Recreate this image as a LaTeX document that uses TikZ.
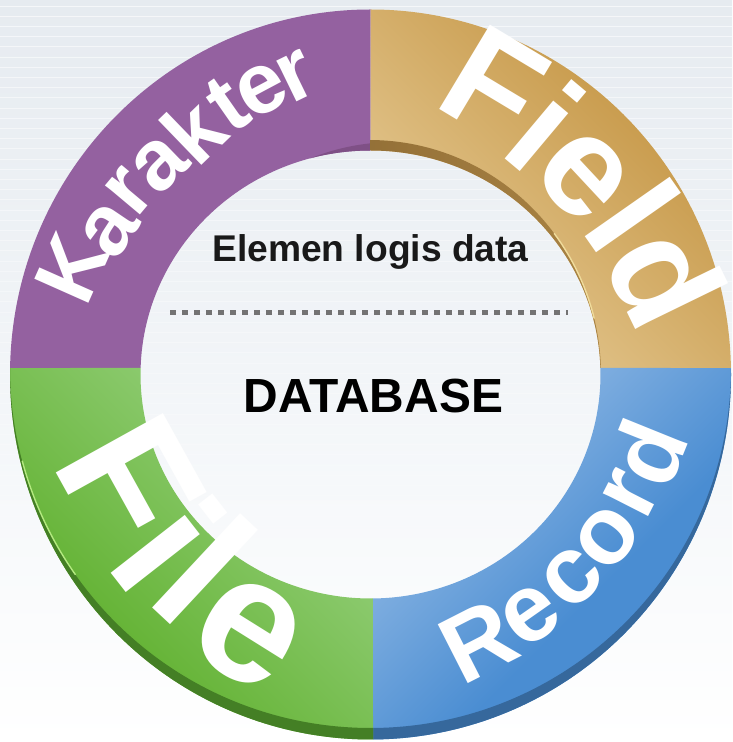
\documentclass[tikz,border=0pt]{standalone}
\usepackage{fontspec}
\setmainfont{Liberation Sans}
\definecolor{bgtop}{HTML}{E6EBF0}
\definecolor{bgmid}{HTML}{F2F5F8}
\definecolor{purplering}{HTML}{9461A0}
\definecolor{purpleband}{HTML}{7F5086}
\definecolor{goldlight}{HTML}{DEBE82}
\definecolor{golddark}{HTML}{C99C4E}
\definecolor{goldband}{HTML}{7F5E2B}
\definecolor{goldbandlight}{HTML}{A98344}
\definecolor{goldshine}{HTML}{F0DC9C}
\definecolor{bluelight}{HTML}{7CACDF}
\definecolor{bluedark}{HTML}{4A8DD2}
\definecolor{blueband}{HTML}{36689C}
\definecolor{greenlight}{HTML}{8AC96C}
\definecolor{greendark}{HTML}{66B437}
\definecolor{greenband}{HTML}{447F25}
\definecolor{greenshine}{HTML}{B4EA80}
\pgfdeclareverticalshading{goldaxis}{100bp}{color(0bp)=(golddark); color(34.5bp)=(golddark); color(62.7bp)=(goldlight); color(100bp)=(goldlight)}
\pgfdeclareverticalshading{blueaxis}{100bp}{color(0bp)=(bluedark); color(42bp)=(bluedark); color(62.7bp)=(bluelight); color(100bp)=(bluelight)}
\pgfdeclareverticalshading{greenaxis}{100bp}{color(0bp)=(greendark); color(36bp)=(greendark); color(62.7bp)=(greenlight); color(100bp)=(greenlight)}
\newcommand{\ringpart}[4]{([shift={(370.5,367.5)}] #1:360.5 and 365) arc[start angle=#1,end angle=#2,x radius=360.5,y radius=365] -- ([shift={(370.5,367.5)}] #3:230 and 224) arc[start angle=#3,end angle=#4,x radius=230,y radius=224] -- cycle}
\tikzset{
  letterbase/.style={text=white,inner sep=0pt,outer sep=0pt},
  kletter/.style={letterbase,font=\fontsize{86}{90}\selectfont\bfseries},
  fletter/.style={letterbase,font=\fontsize{143}{150}\selectfont\bfseries},
  rletter/.style={letterbase,font=\fontsize{96}{100}\selectfont\bfseries},
  iletter/.style={letterbase,font=\fontsize{178}{185}\selectfont\bfseries},
  caption/.style={inner sep=0pt,anchor=base}
}
\begin{document}
\begin{tikzpicture}[x=1pt,y=1pt]
\useasboundingbox (0,0) rectangle (732,742);
% background
\shade[top color=bgtop,bottom color=bgmid] (0,371) rectangle (732,742);
\shade[top color=bgmid,bottom color=white] (0,0) rectangle (732,371);
\foreach \n in {0,...,62}{
  \pgfmathsetmacro{\ly}{736-10.2*\n}
  \pgfmathsetmacro{\lo}{max(0.1,0.6-0.009*\n)}
  \draw[white,line width=0.9pt,opacity=\lo] (0,\ly) -- (732,\ly);
}
% purple
\fill[purplering] \ringpart{90}{179}{178.3}{90};
\begin{scope}
  \clip \ringpart{90}{179}{178.3}{90};
  \fill[purpleband] (395,362) ellipse [x radius=232,y radius=238];
\end{scope}
% gold
\shade[shading=goldaxis,shading angle=135] \ringpart{90}{1}{1.7}{90};
\begin{scope}
  \clip \ringpart{90}{1}{1.7}{90};
  \shade[left color=goldband,right color=goldbandlight] (369,367) ellipse [x radius=232,y radius=235];
  \draw[color=goldshine,line width=1.4pt,line cap=round] ([shift={(369,367)}] 14:232 and 235) arc[start angle=14,end angle=37,x radius=232,y radius=235];
\end{scope}
% blue
\shade[shading=blueaxis,shading angle=45] \ringpart{1}{-89.6}{-89.4}{1.7};
\begin{scope}
  \clip \ringpart{1}{-89.6}{-89.4}{1.7};
  \fill[blueband,even odd rule] (0,0) rectangle (732,742) (370,374) ellipse [x radius=361,y radius=360];
\end{scope}
% green
\shade[shading=greenaxis,shading angle=-45] \ringpart{179}{270.4}{270.6}{178.3};
\begin{scope}
  \clip \ringpart{179}{270.4}{270.6}{178.3};
  \fill[greenband,even odd rule] (0,0) rectangle (732,742) (371,374) ellipse [x radius=361,y radius=360];
  \draw[color=greenshine,line width=1.4pt,line cap=round] ([shift={(371,374)}] 195:361 and 360) arc[start angle=195,end angle=215,x radius=361,y radius=360];
\end{scope}
% centre
\node[caption,text=black!90,font=\fontsize{37.2}{40}\selectfont\bfseries] (elemen) at (370.5,480) {Elemen logis data};
\node[caption,text=black,font=\fontsize{47.9}{52}\selectfont\bfseries] (dbase) at (373.5,329) {DATABASE};
\coordinate (dotA) at (170,429.5);
\coordinate (dotB) at (568,429.5);
\draw[black!55,line width=5.5pt,dash pattern=on 6pt off 6pt] (dotA) -- (dotB);
% Karakter
\node[kletter,rotate=66] (ka) at (72,474) {K};
\node[kletter,rotate=56] (kb) at (110,512) {a};
\node[kletter,rotate=50] (kc) at (130,550) {r};
\node[kletter,rotate=44] (kd) at (160,577) {a};
\node[kletter,rotate=44] (ke) at (193,612) {k};
\node[kletter,rotate=35] (kf) at (227,637) {t};
\node[kletter,rotate=28] (kg) at (262,652) {e};
\node[kletter,rotate=26] (kh) at (296,666) {r};
% Field
\node[fletter,rotate=-31] (fa) at (494,657) {F};
\node[fletter,rotate=-40] (fb) at (546,616) {i};
\node[fletter,rotate=-47] (fc) at (583,566) {e};
\node[fletter,rotate=-55] (fd) at (633,527) {l};
\node[fletter,rotate=-64] (fe) at (667,466) {d};
% Record
\node[rletter,rotate=27] (ra) at (478,101) {R};
\node[rletter,rotate=35] (rb) at (531,127) {e};
\node[rletter,rotate=45] (rc) at (572,164) {c};
\node[rletter,rotate=52] (rd) at (608,204) {o};
\node[rletter,rotate=63] (re) at (631,248) {r};
\node[rletter,rotate=68] (rf) at (648,290) {d};
% File
\node[iletter,rotate=-61] (ia) at (130,262) {F};
\node[iletter,rotate=-52] (ib) at (170,199) {i};
\node[iletter,rotate=-43] (ic) at (206,173) {l};
\node[iletter,rotate=-32] (id) at (248,109) {e};
\end{tikzpicture}
\end{document}
